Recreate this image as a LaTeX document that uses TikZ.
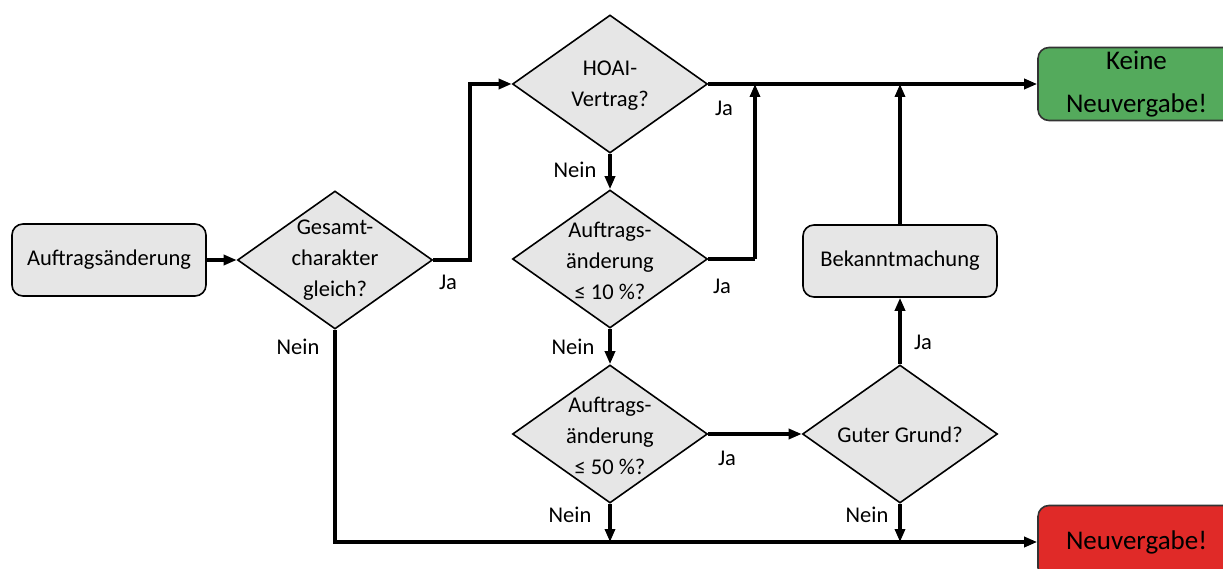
\documentclass[tikz,border=0pt]{standalone}
\usepackage{fontspec}
\setmainfont{Carlito}
\usetikzlibrary{shapes.geometric,arrows.meta}
\definecolor{boxgray}{RGB}{230,230,230}
\definecolor{okgreen}{RGB}{84,170,92}
\definecolor{badred}{RGB}{224,42,40}
\tikzset{
  dia/.style={diamond,draw=black,line width=1.6pt,fill=boxgray,minimum width=195pt,minimum height=138pt,inner sep=0pt},
  rbox/.style={rectangle,rounded corners=11pt,draw=black,line width=1.6pt,fill=boxgray,minimum width=194pt,minimum height=72pt,inner sep=0pt,font=\fontsize{22.5}{30}\selectfont},
  endbox/.style={rectangle,rounded corners=11pt,draw=black!80,line width=1.6pt,minimum width=197pt,minimum height=73pt,inner sep=0pt,align=center,font=\fontsize{27}{43}\selectfont},
  dtext/.style={align=center,inner sep=0pt,font=\fontsize{22.5}{31}\selectfont},
  lbl/.style={inner sep=0pt,font=\fontsize{22.5}{26}\selectfont},
  conn/.style={line width=3.2pt},
  arr/.style={conn,-{Triangle[length=13pt,width=10pt]}}
}
\begin{document}
\begin{tikzpicture}[x=1pt,y=-1pt]
\useasboundingbox (0,0) rectangle (1223,569);
% nodes
\node[rbox] (auf) at (109,260) {Auftragsänderung};
\node[dia] (gc) at (335,260) {};
\node[dtext] (gct) at (335,260) {Gesamt-\\charakter\\gleich?};
\node[dia] (hoai) at (610,84) {};
\node[dtext] (hoait) at (610,86) {HOAI-\\Vertrag?};
\node[dia] (p10) at (610,259) {};
\node[dtext] (p10t) at (610,261) {Auftrags-\\änderung\\≤ 10 \%?};
\node[dia] (p50) at (610,434) {};
\node[dtext] (p50t) at (610,436) {Auftrags-\\änderung\\≤ 50 \%?};
\node[dia] (gg) at (900,434) {};
\node[dtext] (ggt) at (900,435) {Guter Grund?};
\node[rbox] (bek) at (900,261) {Bekanntmachung};
\node[endbox,fill=okgreen] (keine) at (1136.5,84) {Keine\\Neuvergabe!};
\node[endbox,fill=badred] (neu) at (1136.5,542) {Neuvergabe!};
% helper coordinates
\coordinate (j1) at (470,260);
\coordinate (j2) at (755,259);
\coordinate (j2t) at (755,84);
\coordinate (j3) at (900,84);
\coordinate (b1) at (610,542);
\coordinate (b2) at (900,542);
% connectors
\draw[arr] (auf.east) -- (gc.west);
\draw[arr] (gc.east) -- (j1) |- (hoai.west);
\draw[arr] (hoai.east) -- (keine.west);
\draw[arr] (hoai.south) -- (p10.north);
\draw[conn] (p10.east) -- (j2);
\draw[arr] (j2) -- (j2t);
\draw[arr] (p10.south) -- (p50.north);
\draw[arr] (p50.east) -- (gg.west);
\draw[arr] (gg.north) -- (bek.south);
\draw[arr] (bek.north) -- (j3);
\draw[arr] (gc.south) |- (neu.west);
\draw[arr] (p50.south) -- (b1);
\draw[arr] (gg.south) -- (b2);
% labels
\node[lbl] (l1) at (448,282) {Ja};
\node[lbl] (l2) at (298,347) {Nein};
\node[lbl] (l3) at (724,108) {Ja};
\node[lbl] (l4) at (575,170) {Nein};
\node[lbl] (l5) at (722,286) {Ja};
\node[lbl] (l6) at (573,347) {Nein};
\node[lbl] (l7) at (727,458) {Ja};
\node[lbl] (l8) at (570,515) {Nein};
\node[lbl] (l9) at (867,515) {Nein};
\node[lbl] (l10) at (923,342) {Ja};
\end{tikzpicture}
\end{document}
